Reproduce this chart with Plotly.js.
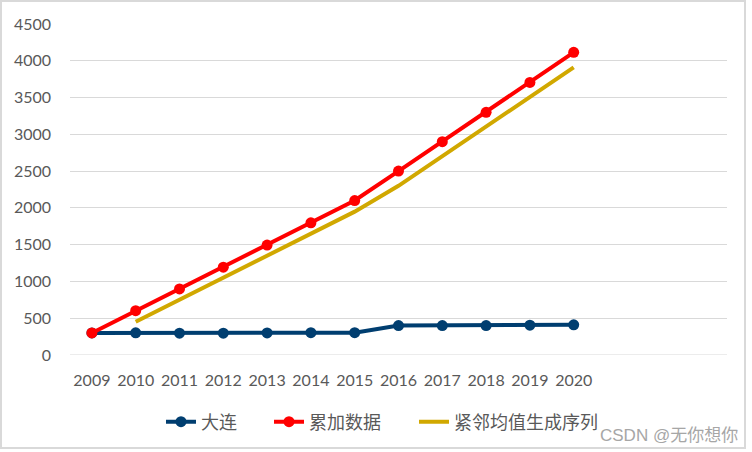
<!DOCTYPE html>
<html>
<head>
<meta charset="utf-8">
<script src="https://cdn.plot.ly/plotly-3.0.1.min.js"></script>
<style>
html,body{margin:0;padding:0;background:#fff;}
#chart{width:752px;height:452px;}
</style>
</head>
<body>
<div id="chart"></div>
<script>
const years = [2009, 2010, 2011, 2012, 2013, 2014, 2015, 2016, 2017, 2018, 2019, 2020];
const dalian = [300, 302, 296, 296, 300, 303, 303, 400, 400, 400, 405, 410];
const cumulative = [300, 602, 898, 1194, 1494, 1797, 2100, 2500, 2900, 3300, 3705, 4115];
const meanYears = [2010, 2011, 2012, 2013, 2014, 2015, 2016, 2017, 2018, 2019, 2020];
const meanSeq = [451, 750, 1046, 1344, 1646, 1949, 2300, 2700, 3100, 3503, 3910];
const yTicks = [0, 500, 1000, 1500, 2000, 2500, 3000, 3500, 4000, 4500];
const names = ['大连', '累加数据', '紧邻均值生成序列'];

const cjk = 'Lato, "Noto Sans CJK SC", sans-serif';
const wm = '"Liberation Sans", "Noto Sans CJK SC", sans-serif';

const traces = [
  {x: years, y: dalian, name: names[0], type: 'scatter', mode: 'lines+markers', legend: 'legend',
   line: {color: '#003e70', width: 4}, marker: {color: '#003e70', size: 11}},
  {x: years, y: cumulative, name: names[1], type: 'scatter', mode: 'lines+markers', legend: 'legend2',
   line: {color: '#ff0000', width: 4}, marker: {color: '#ff0000', size: 11}},
  {x: meanYears, y: meanSeq, name: names[2], type: 'scatter', mode: 'lines', legend: 'legend3',
   line: {color: '#d1a800', width: 4}}
];

function leg(x) {
  return {orientation: 'h', x: x, xanchor: 'left', y: -0.2024, yanchor: 'middle',
          font: {family: cjk, size: 18, color: '#595959'}, bgcolor: 'rgba(0,0,0,0)', borderwidth: 0};
}

const layout = {
  width: 752, height: 452,
  margin: {l: 70, r: 25, t: 24, b: 97},
  paper_bgcolor: '#ffffff', plot_bgcolor: '#ffffff',
  font: {family: cjk, color: '#595959', size: 16},
  xaxis: {
    range: [2008.5, 2023.5], tickvals: years, ticktext: years.map(String),
    showgrid: false, zeroline: false, showline: false, ticks: '',
    ticklabelstandoff: 14,
    tickfont: {family: cjk, size: 16, color: '#595959'}
  },
  yaxis: {
    range: [0, 4500], tickvals: yTicks, showgrid: true, gridcolor: '#d9d9d9', gridwidth: 1,
    zeroline: false, showline: false, ticks: '',
    ticklabelstandoff: 18,
    tickfont: {family: cjk, size: 16, color: '#595959'}
  },
  showlegend: true,
  legend: leg(0.1385),
  legend2: leg(0.3029),
  legend3: leg(0.5236),
  shapes: [
    {type: 'line', xref: 'paper', yref: 'y', x0: 0, x1: 1, y0: 0, y1: 0,
     line: {color: '#d9d9d9', width: 1}, layer: 'below'},
    {type: 'rect', xref: 'paper', yref: 'paper', x0: -0.105, x1: 1.0274, y0: -0.281, y1: 1.0695,
     line: {color: '#d9d9d9', width: 2}}
  ],
  annotations: [
    {text: 'CSDN @无你想你', xref: 'paper', yref: 'paper', x: 0.911, y: -0.2417,
     xanchor: 'center', yanchor: 'middle', showarrow: false,
     font: {family: wm, size: 17, color: '#a6a6a6'}}
  ]
};

Plotly.newPlot('chart', traces, layout, {displayModeBar: false, staticPlot: true});
</script>
</body>
</html>
